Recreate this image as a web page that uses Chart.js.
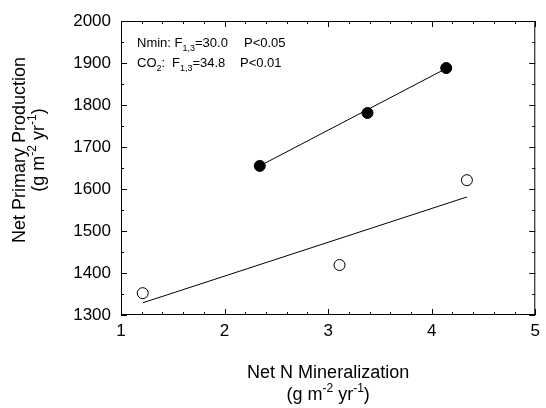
<!DOCTYPE html>
<html>
<head>
<meta charset="utf-8">
<script src="https://cdn.jsdelivr.net/npm/chart.js@4"></script>
<style>
html, body { margin: 0; padding: 0; background: #fff; }
</style>
</head>
<body>
<canvas id="myChart" width="546" height="408"></canvas>
<script>
// values
const elevatedMin = [2.34, 3.38, 4.14];
const elevatedNpp = [1655, 1781, 1888];
const ambientMin = [1.21, 3.11, 4.34];
const ambientNpp = [1352, 1419, 1621];

// regression lines (end points)
const elevatedFitMin = [2.34, 4.14];
const elevatedFitNpp = [1655, 1887];
const ambientFitMin = [1.21, 4.34];
const ambientFitNpp = [1329, 1581];

const xTickLabels = [1, 2, 3, 4, 5];
const yTickLabels = [1300, 1400, 1500, 1600, 1700, 1800, 1900, 2000];

const FONT = '"Liberation Sans", Arial, Helvetica, sans-serif';

function toPoints(xs, ys) {
    return xs.map((x, i) => ({ x: x, y: ys[i] }));
}

// draw text made of pieces, some raised (sup) or lowered (sub)
function richText(ctx, parts, x, y, size, align) {
    const small = Math.round(size * 0.68);
    let total = 0;
    parts.forEach(p => {
        ctx.font = (p.sup || p.sub ? small : size) + 'px ' + FONT;
        total += ctx.measureText(p.t).width;
    });
    let cx = align === 'center' ? x - total / 2 : x;
    parts.forEach(p => {
        ctx.font = (p.sup || p.sub ? small : size) + 'px ' + FONT;
        let dy = 0;
        if (p.sup) dy = -size * 0.42;
        if (p.sub) dy = size * 0.3;
        ctx.fillText(p.t, cx, y + dy);
        cx += ctx.measureText(p.t).width;
    });
}

const unitParts = [
    { t: '(g m' }, { t: '-2', sup: true }, { t: ' yr' }, { t: '-1', sup: true }, { t: ')' }
];

const framePlugin = {
    id: 'frame',
    afterDatasetsDraw(chart) {
        const ctx = chart.ctx;
        const a = chart.chartArea;
        const xs = chart.scales.x;
        const ys = chart.scales.y;
        ctx.save();
        ctx.strokeStyle = '#000';
        ctx.lineWidth = 1;
        ctx.strokeRect(a.left + 0.5, a.top + 0.5, a.right - a.left - 1, a.bottom - a.top - 1);

        // inward ticks on all four sides
        ctx.beginPath();
        for (let i = 0; i <= 20; i++) {
            const v = xs.min + i * 0.2;
            const px = Math.round(xs.getPixelForValue(v)) + 0.5;
            const len = i % 5 === 0 ? 6 : 3;
            ctx.moveTo(px, a.bottom); ctx.lineTo(px, a.bottom - len);
            ctx.moveTo(px, a.top); ctx.lineTo(px, a.top + len);
        }
        for (let i = 0; i <= 14; i++) {
            const v = ys.min + i * 50;
            const py = Math.round(ys.getPixelForValue(v)) + 0.5;
            const len = i % 2 === 0 ? 6 : 3;
            ctx.moveTo(a.left, py); ctx.lineTo(a.left + len, py);
            ctx.moveTo(a.right, py); ctx.lineTo(a.right - len, py);
        }
        ctx.stroke();

        ctx.fillStyle = '#000';
        ctx.textBaseline = 'alphabetic';

        // statistics text
        richText(ctx, [{ t: 'Nmin: F' }, { t: '1,3', sub: true }, { t: '=30.0' }], a.left + 16, 47, 13);
        richText(ctx, [{ t: 'P<0.05' }], a.left + 123, 47, 13);
        richText(ctx, [{ t: 'CO' }, { t: '2', sub: true }, { t: ':' }], a.left + 16, 67, 13);
        richText(ctx, [{ t: 'F' }, { t: '1,3', sub: true }, { t: '=34.8' }], a.left + 51, 67, 13);
        richText(ctx, [{ t: 'P<0.01' }], a.left + 119, 67, 13);

        // x axis title
        const cx = (a.left + a.right) / 2;
        richText(ctx, [{ t: 'Net N Mineralization' }], cx, 378, 18, 'center');
        richText(ctx, unitParts, cx, 400, 18, 'center');

        // y axis title
        ctx.translate(25, 150);
        ctx.rotate(-Math.PI / 2);
        richText(ctx, [{ t: 'Net Primary Production' }], 0, 0, 18, 'center');
        richText(ctx, unitParts, 0, 19, 18, 'center');
        ctx.restore();
    }
};

const ctx = document.getElementById('myChart').getContext('2d');
const myChart = new Chart(ctx, {
    type: 'scatter',
    data: {
        datasets: [
            {
                label: 'elevated fit',
                data: toPoints(elevatedFitMin, elevatedFitNpp),
                showLine: true,
                borderColor: '#000',
                borderWidth: 1,
                pointRadius: 0
            },
            {
                label: 'ambient fit',
                data: toPoints(ambientFitMin, ambientFitNpp),
                showLine: true,
                borderColor: '#000',
                borderWidth: 1,
                pointRadius: 0
            },
            {
                label: 'elevated CO2',
                data: toPoints(elevatedMin, elevatedNpp),
                backgroundColor: '#000',
                borderColor: '#000',
                borderWidth: 1,
                pointRadius: 5.5
            },
            {
                label: 'ambient CO2',
                data: toPoints(ambientMin, ambientNpp),
                backgroundColor: '#fff',
                borderColor: '#000',
                borderWidth: 1,
                pointRadius: 5.5
            }
        ]
    },
    options: {
        responsive: false,
        animation: false,
        layout: { padding: { top: 21, right: 4, left: 0, bottom: 0 } },
        plugins: { legend: { display: false }, tooltip: { enabled: false } },
        scales: {
            x: {
                type: 'linear',
                min: xTickLabels[0],
                max: xTickLabels[xTickLabels.length - 1],
                afterFit: s => { s.height = 93; },
                afterBuildTicks: s => { s.ticks = xTickLabels.map(v => ({ value: v })); },
                ticks: { color: '#000', font: { family: FONT, size: 17 }, padding: 6, maxRotation: 0, callback: v => String(v) },
                grid: { display: false, drawTicks: false },
                border: { display: false }
            },
            y: {
                type: 'linear',
                min: yTickLabels[0],
                max: yTickLabels[yTickLabels.length - 1],
                afterFit: s => { s.width = 121; },
                afterBuildTicks: s => { s.ticks = yTickLabels.map(v => ({ value: v })); },
                ticks: { color: '#000', font: { family: FONT, size: 17 }, padding: 10, callback: v => String(v) },
                grid: { display: false, drawTicks: false },
                border: { display: false }
            }
        }
    },
    plugins: [framePlugin]
});
</script>
</body>
</html>
